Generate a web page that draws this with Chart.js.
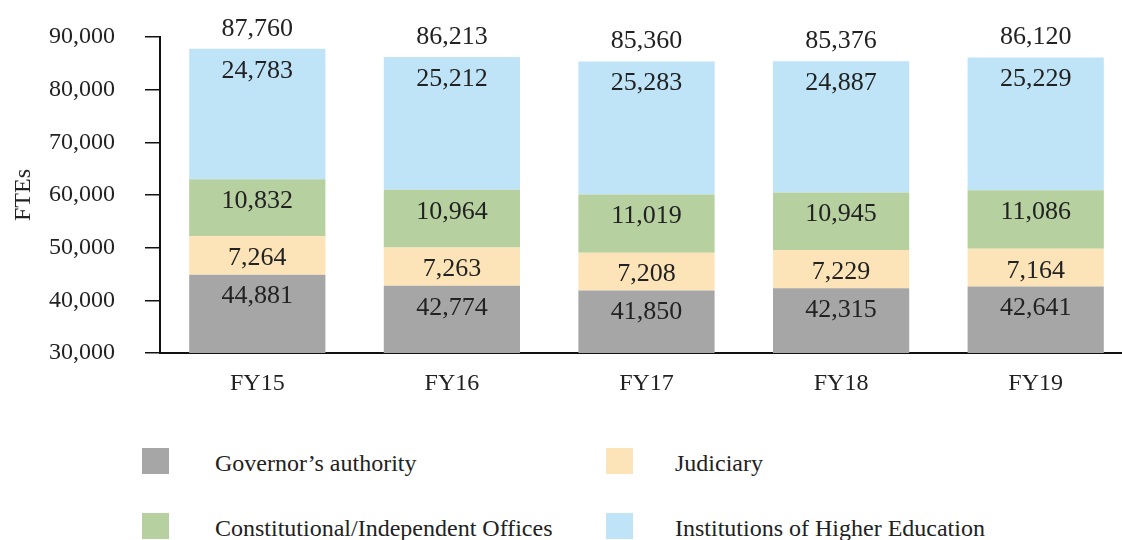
<!DOCTYPE html>
<html>
<head>
<meta charset="utf-8">
<script src="https://cdn.jsdelivr.net/npm/chart.js@4"></script>
<style>
  body { margin: 0; background: #fff; overflow: hidden; width: 1122px; height: 540px; position: relative;
         font-family: "Liberation Serif", "Times New Roman", serif; }
  #wrap { position: absolute; left: 0; top: 0; width: 1133px; height: 420px; }
  .sw { position: absolute; width: 27px; height: 26px; }
  .lt { position: absolute; font-size: 24px; color: #222; line-height: 28px; white-space: nowrap; }
</style>
</head>
<body>
<div id="wrap"><canvas id="chart" width="1133" height="420"></canvas></div>
<div id="legend"></div>
<script>
const years = ["FY15", "FY16", "FY17", "FY18", "FY19"];
const governor = [44881, 42774, 41850, 42315, 42641];
const judiciary = [7264, 7263, 7208, 7229, 7164];
const constitutional = [10832, 10964, 11019, 10945, 11086];
const higherEd = [24783, 25212, 25283, 24887, 25229];
const totals = [87760, 86213, 85360, 85376, 86120];
const yTicks = [30000, 40000, 50000, 60000, 70000, 80000, 90000];

const seriesNames = ["Governor\u2019s authority", "Judiciary", "Constitutional/Independent Offices", "Institutions of Higher Education"];
const seriesData = [governor, judiciary, constitutional, higherEd];
const colors = ["#a6a6a6", "#fce4b8", "#b7d0a0", "#bfe4f8"];

const fmt = (v) => v.toLocaleString("en-US");
const FONT = '"Liberation Serif", "Times New Roman", serif';

// numbers inside each segment + totals above
const valueLabels = {
  id: "valueLabels",
  afterDatasetsDraw(chart) {
    const ctx = chart.ctx;
    ctx.save();
    ctx.font = "26px " + FONT;
    ctx.fillStyle = "#222";
    ctx.textAlign = "center";
    ctx.textBaseline = "middle";
    chart.data.datasets.forEach((ds, i) => {
      chart.getDatasetMeta(i).data.forEach((bar, j) => {
        ctx.fillText(fmt(ds.data[j]), bar.x, bar.y + 22);
      });
    });
    const top = chart.getDatasetMeta(chart.data.datasets.length - 1);
    top.data.forEach((bar, j) => ctx.fillText(fmt(totals[j]), bar.x, bar.y - 20));
    ctx.restore();
  }
};

new Chart(document.getElementById("chart"), {
  type: "bar",
  data: {
    labels: years,
    datasets: seriesData.map((d, i) => ({
      label: seriesNames[i],
      data: d,
      backgroundColor: colors[i],
      borderWidth: 0,
      barPercentage: 0.7,
      categoryPercentage: 1.0
    }))
  },
  options: {
    responsive: false,
    animation: false,
    layout: { padding: { top: 37, left: 0, right: 0, bottom: 0 } },
    plugins: { legend: { display: false }, tooltip: { enabled: false } },
    scales: {
      x: {
        stacked: true,
        grid: { display: false, drawTicks: false },
        border: { display: true, color: "#111", width: 2 },
        ticks: { color: "#222", padding: 16, font: { family: FONT, size: 24 } },
        afterFit: (s) => { s.height = 67; }
      },
      y: {
        stacked: true,
        min: 30000,
        max: 90000,
        afterBuildTicks: (s) => { s.ticks = yTicks.map((v) => ({ value: v })); },
        grid: { drawOnChartArea: false, drawTicks: true, tickLength: 15, color: "#111", lineWidth: 1.5 },
        border: { display: true, color: "#111", width: 2 },
        ticks: { color: "#222", padding: 30, font: { family: FONT, size: 24 }, callback: (v) => fmt(v) },
        title: { display: true, text: "FTEs", color: "#222", font: { family: FONT, size: 24 }, padding: { top: 9, bottom: 0 } },
        afterFit: (s) => { s.width = 160; s.paddingTop = 0; s.paddingBottom = 0; }
      }
    }
  },
  plugins: [valueLabels]
});

// legend, two columns
const legendPos = [[142, 448], [606, 448], [142, 513], [606, 513]];
const legendEl = document.getElementById("legend");
seriesNames.forEach((name, i) => {
  const [x, y] = legendPos[i];
  const sw = document.createElement("div");
  sw.className = "sw";
  sw.style.left = x + "px";
  sw.style.top = y + "px";
  sw.style.background = colors[i];
  const t = document.createElement("div");
  t.className = "lt";
  t.style.left = (x + (i % 2 ? 69 : 73)) + "px";
  t.style.top = (y + 1) + "px";
  t.textContent = name;
  legendEl.appendChild(sw);
  legendEl.appendChild(t);
});
</script>
</body>
</html>
